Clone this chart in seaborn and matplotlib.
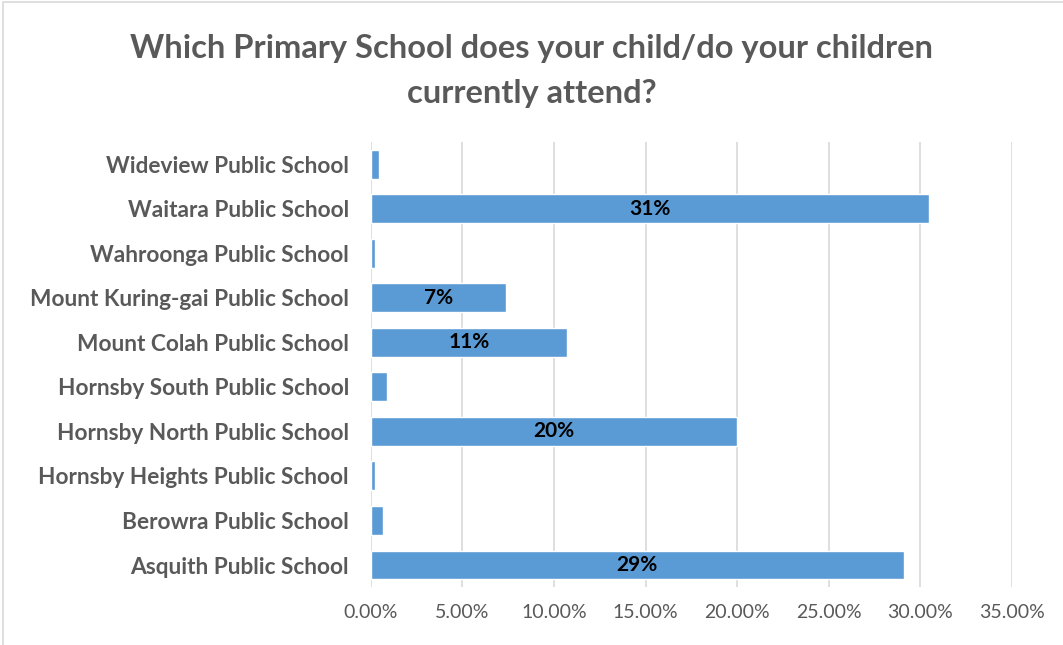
import numpy as np
import pandas as pd
import matplotlib
matplotlib.use("Agg")
import matplotlib.pyplot as plt
import seaborn as sns
from matplotlib.ticker import PercentFormatter
from matplotlib.patches import Rectangle

# data (top to bottom, as shown)
schools = [
    "Wideview Public School",
    "Waitara Public School",
    "Wahroonga Public School",
    "Mount Kuring-gai Public School",
    "Mount Colah Public School",
    "Hornsby South Public School",
    "Hornsby North Public School",
    "Hornsby Heights Public School",
    "Berowra Public School",
    "Asquith Public School",
]
share = [0.0042, 0.305, 0.0021, 0.074, 0.107, 0.0085, 0.200, 0.0021, 0.0064, 0.291]
bar_labels = ["", "31%", "", "7%", "11%", "", "20%", "", "", "29%"]

BAR_COLOR = "#5B9BD5"
TEXT_GREY = "#595959"
FONT = ["Lato", "DejaVu Sans"]

sns.set_style("white")
plt.rcParams["font.family"] = FONT

df = pd.DataFrame({"School": schools, "Share": share})

fig = plt.figure(figsize=(10.63, 6.45), dpi=100)
ax = fig.add_axes([0.349, 0.0895, 0.6026, 0.6905])

sns.barplot(data=df, x="Share", y="School", order=schools, color=BAR_COLOR,
            saturation=1, width=0.65, orient="h", ax=ax)

ax.set_xlim(0, 0.35)
ax.set_xticks(np.arange(0, 0.3501, 0.05))
ax.xaxis.set_major_formatter(PercentFormatter(1.0, decimals=2))
ax.grid(axis="x", color="#D9D9D9", linewidth=1.2)
ax.set_axisbelow(True)
for s in ax.spines.values():
    s.set_visible(False)
ax.set_xlabel("")
ax.set_ylabel("")
ax.tick_params(axis="x", labelsize=14, labelcolor=TEXT_GREY, length=0, pad=12)
ax.tick_params(axis="y", labelsize=16.3, labelcolor=TEXT_GREY, length=0, pad=16)
for t in ax.get_yticklabels():
    t.set_fontweight("bold")

ax.bar_label(ax.containers[0], labels=bar_labels, label_type="center",
             fontsize=15, fontweight="bold", color="black")

fig.text(0.5, 0.925, "Which Primary School does your child/do your children",
         ha="center", va="center", fontsize=23.5, fontweight="bold", color=TEXT_GREY)
fig.text(0.5, 0.855, "currently attend?",
         ha="center", va="center", fontsize=23.5, fontweight="bold", color=TEXT_GREY)

# chart border
fig.patches.append(Rectangle((0.003, -0.01), 1.1, 1.007, transform=fig.transFigure,
                             fill=False, edgecolor="#D9D9D9", linewidth=1.2))

fig.savefig("out.png", dpi=100)
